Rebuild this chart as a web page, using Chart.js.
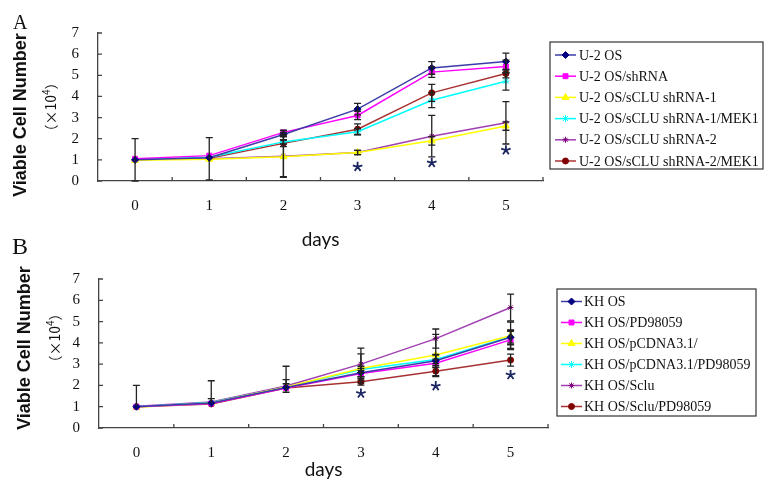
<!DOCTYPE html>
<html>
<head>
<meta charset="utf-8">
<script src="https://cdn.jsdelivr.net/npm/chart.js@4.4.0/dist/chart.umd.min.js"></script>
<style>
  body { margin: 0; background: #fff; }
  #wrap { position: relative; width: 769px; height: 481px; overflow: hidden; }
  canvas { position: absolute; left: 0; top: 0; }
  .rot { position: absolute; transform: translate(-50%, -50%) rotate(-90deg); white-space: nowrap; line-height: 1; }
  .t1 { font: bold 18px "Liberation Sans", Arial, sans-serif; color: #111; }
  .t2 { font: 14px "Noto Sans CJK SC", sans-serif; color: #111; }
  .t2 sup { font-size: 10px; }
  .pl { position: absolute; font-family: "Liberation Serif", serif; line-height: 1; color: #111; }
</style>
</head>
<body>
<div id="wrap">
  <canvas id="chartA" width="769" height="481"></canvas>
  <canvas id="chartB" width="769" height="481"></canvas>
  <div class="pl" style="left:13px;top:12px;font-size:20px">A</div>
  <div class="pl" style="left:12px;top:234px;font-size:24px">B</div>
  <div class="rot t1" style="left:20px;top:115px">Viable Cell Number</div>
  <div class="rot t2" style="left:49px;top:107px">（×10<sup>4</sup>）</div>
  <div class="rot t1" style="left:24px;top:348px">Viable Cell Number</div>
  <div class="rot t2" style="left:53px;top:338px">（×10<sup>4</sup>）</div>
</div>
<script>
// x categories and y tick labels
const days = ['0', '1', '2', '3', '4', '5'];
const yTicks = [0, 1, 2, 3, 4, 5, 6, 7];

// Panel A - U-2 OS
const labelsA = ['U-2 OS', 'U-2 OS/shRNA', 'U-2 OS/sCLU shRNA-1', 'U-2 OS/sCLU shRNA-1/MEK1', 'U-2 OS/sCLU shRNA-2', 'U-2 OS/sCLU shRNA-2/MEK1'];
const u2os      = [1.0, 1.1, 2.2, 3.4, 5.35, 5.65];
const u2shRNA   = [1.05, 1.2, 2.3, 3.1, 5.15, 5.42];
const u2sh1     = [0.98, 1.03, 1.15, 1.35, 1.9, 2.6];
const u2sh1MEK  = [1.0, 1.12, 1.85, 2.33, 3.82, 4.72];
const u2sh2     = [1.02, 1.05, 1.17, 1.35, 2.12, 2.75];
const u2sh2MEK  = [1.0, 1.08, 1.78, 2.45, 4.17, 5.08];
// error bars (number = +/-, pair = [down, up])
const errU2os     = [1.0, 0, 0.1, 0.27, 0.3, 0.4];
const errU2shRNA  = [0, 0, 0.1, 0.2, 0.25, 0.3];
const errU2sh1    = [0, 0, 0.95, 0.1, 0.2, 0.2];
const errU2sh1MEK = [0, 0, 0.1, 0.15, 0.35, 0.42];
const errU2sh2    = [0, 1.0, 1.0, 0.1, 0.98, 1.0];
const errU2sh2MEK = [0, 0, 0.15, 0.25, 0.4, 0.2];
const starsA = [null, null, null, 0.67, 0.86, 1.46];

// Panel B - KH OS
const labelsB = ['KH OS', 'KH OS/PD98059', 'KH OS/pCDNA3.1/', 'KH OS/pCDNA3.1/PD98059', 'KH OS/Sclu', 'KH OS/Sclu/PD98059'];
const khos       = [1.0, 1.17, 1.9, 2.6, 3.16, 4.26];
const khPD       = [1.0, 1.15, 1.88, 2.56, 3.04, 4.14];
const khPc       = [0.97, 1.18, 1.93, 2.8, 3.43, 4.33];
const khPcPD     = [1.0, 1.2, 1.92, 2.75, 3.22, 4.29];
const khSclu     = [1.02, 1.22, 1.97, 3.0, 4.2, 5.66];
const khScluPD   = [1.0, 1.13, 1.88, 2.17, 2.67, 3.19];
const errKhos     = [[0, 1.0], 0, 0, 0.2, 0.3, 0.35];
const errKhPD     = [0, 0, 0, 0.15, 0.2, 0.4];
const errKhPc     = [0, [0, 0.2], 0, 0.68, 0.97, 0.65];
const errKhPcPD   = [0, 0, [0, 0.35], 0.15, 0.2, 0.3];
const errKhSclu   = [0, [0, 1.0], [0, 0.93], 0.75, 0.45, 0.63];
const errKhScluPD = [0, 0, 0.2, 0.16, 0.26, 0.28];
const starsB = [null, null, null, 1.62, 1.97, 2.49];

const styles = [
  { line: '#3c3ca8', point: '#000080', shape: 'rectRot', r: 3.5 },
  { line: '#ff00ff', point: '#ff00ff', shape: 'rect', r: 3.5 },
  { line: '#ffff00', point: '#ffff00', shape: 'triangle', r: 4 },
  { line: '#00ffff', point: '#00ffff', shape: 'star', r: 3.5 },
  { line: '#a040b0', point: '#800080', shape: 'star', r: 3 },
  { line: '#a83232', point: '#800000', shape: 'circle', r: 3 }
];

const errorBarPlugin = {
  id: 'errorBars',
  afterDatasetsDraw(chart) {
    const ctx = chart.ctx, xs = chart.scales.x, ys = chart.scales.y;
    ctx.save();
    ctx.strokeStyle = '#222';
    ctx.lineWidth = 1.3;
    chart.data.datasets.forEach(ds => {
      (ds.errors || []).forEach((e, i) => {
        if (!e) return;
        const [dn, up] = Array.isArray(e) ? e : [e, e];
        const v = ds.data[i];
        const px = xs.getPixelForValue(i);
        const y0 = ys.getPixelForValue(v - dn), y1 = ys.getPixelForValue(v + up);
        ctx.beginPath();
        ctx.moveTo(px, y0); ctx.lineTo(px, y1);
        if (up) { ctx.moveTo(px - 3.5, y1); ctx.lineTo(px + 3.5, y1); }
        if (dn) { ctx.moveTo(px - 3.5, y0); ctx.lineTo(px + 3.5, y0); }
        ctx.stroke();
      });
    });
    ctx.restore();
  }
};

// significance asterisks below the curves
const starPlugin = {
  id: 'stars',
  afterDatasetsDraw(chart, args, opts) {
    const ctx = chart.ctx, xs = chart.scales.x, ys = chart.scales.y;
    ctx.save();
    ctx.strokeStyle = '#1c2660';
    ctx.lineWidth = 1.8;
    (opts.values || []).forEach((v, i) => {
      if (v == null) return;
      const cx = xs.getPixelForValue(i), cy = ys.getPixelForValue(v);
      ctx.beginPath();
      for (let k = 0; k < 5; k++) {
        const a = -Math.PI / 2 + k * 2 * Math.PI / 5;
        ctx.moveTo(cx, cy);
        ctx.lineTo(cx + 5 * Math.cos(a), cy + 5 * Math.sin(a));
      }
      ctx.stroke();
    });
    ctx.restore();
  }
};

// small tick marks pointing into the plot
const innerTicks = {
  id: 'innerTicks',
  afterDraw(chart) {
    const ctx = chart.ctx, xs = chart.scales.x, ys = chart.scales.y, a = chart.chartArea;
    ctx.save();
    ctx.strokeStyle = '#444';
    ctx.lineWidth = 1.3;
    ctx.beginPath();
    for (let i = 0; i < days.length - 1; i++) {
      const bx = (xs.getPixelForValue(i) + xs.getPixelForValue(i + 1)) / 2;
      ctx.moveTo(bx, a.bottom); ctx.lineTo(bx, a.bottom - 4);
    }
    ctx.moveTo(a.right, a.bottom); ctx.lineTo(a.right, a.bottom - 4);
    yTicks.forEach(v => {
      const py = ys.getPixelForValue(v);
      ctx.moveTo(a.left, py); ctx.lineTo(a.left + 4, py);
    });
    ctx.stroke();
    ctx.restore();
  }
};

const boxLegend = {
  id: 'boxLegend',
  afterDraw(chart, args, o) {
    const ctx = chart.ctx;
    ctx.save();
    ctx.strokeStyle = '#333';
    ctx.lineWidth = 1.2;
    ctx.strokeRect(o.left, o.top, o.width, o.height);
    ctx.font = '14px "Liberation Serif"';
    ctx.textBaseline = 'middle';
    chart.data.datasets.forEach((ds, i) => {
      const yy = o.rowY + i * o.rowH;
      ctx.strokeStyle = ds.borderColor;
      ctx.lineWidth = 1.5;
      ctx.beginPath();
      ctx.moveTo(o.lineX0, yy); ctx.lineTo(o.lineX1, yy);
      ctx.stroke();
      ctx.fillStyle = ds.pointBackgroundColor;
      ctx.strokeStyle = ds.pointBorderColor;
      ctx.lineWidth = 1;
      Chart.helpers.drawPoint(ctx, { pointStyle: ds.pointStyle, radius: ds.pointRadius, borderWidth: 1 }, (o.lineX0 + o.lineX1) / 2, yy);
      ctx.fillStyle = '#111';
      ctx.fillText(ds.label, o.textX, yy + 1);
    });
    ctx.restore();
  }
};

function buildChart(id, labels, values, errors, stars, geo) {
  const datasets = values.map((v, i) => ({
    label: labels[i],
    data: v,
    errors: errors[i],
    borderColor: styles[i].line,
    backgroundColor: styles[i].point,
    pointBackgroundColor: styles[i].point,
    pointBorderColor: styles[i].point,
    pointStyle: styles[i].shape,
    pointRadius: styles[i].r,
    pointBorderWidth: 1,
    borderWidth: 1.5,
    tension: 0
  }));
  return new Chart(document.getElementById(id), {
    type: 'line',
    data: { labels: days, datasets },
    options: {
      responsive: false,
      animation: false,
      events: [],
      layout: { padding: { left: 0, top: geo.top, right: 769 - geo.right, bottom: geo.padBottom } },
      plugins: {
        legend: { display: false },
        tooltip: { enabled: false },
        boxLegend: geo.legend,
        stars: { values: stars }
      },
      scales: {
        x: {
          type: 'category',
          offset: true,
          grid: { display: false },
          border: { display: true, color: '#444', width: 1.3 },
          ticks: { font: { family: 'Liberation Serif', size: 15 }, color: '#111', padding: geo.xPad, maxRotation: 0 },
          title: { display: true, text: 'days', font: { family: 'Lato', size: 19 }, color: '#111', padding: 0 },
          afterFit: s => { s.height = geo.xHeight; }
        },
        y: {
          min: 0,
          max: 7,
          afterBuildTicks: s => { s.ticks = yTicks.map(v => ({ value: v })); },
          grid: { display: false },
          border: { display: true, color: '#444', width: 1.3 },
          ticks: { font: { family: 'Liberation Serif', size: 15 }, color: '#111', padding: 11 },
          afterFit: s => { s.width = geo.left; }
        }
      }
    },
    plugins: [errorBarPlugin, starPlugin, innerTicks, boxLegend]
  });
}

buildChart('chartA', labelsA,
  [u2os, u2shRNA, u2sh1, u2sh1MEK, u2sh2, u2sh2MEK],
  [errU2os, errU2shRNA, errU2sh1, errU2sh1MEK, errU2sh2, errU2sh2MEK],
  starsA,
  { left: 98, right: 543, top: 33, padBottom: 230, xHeight: 70, xPad: 8,
    legend: { left: 550, top: 42, width: 213, height: 127, rowY: 55, rowH: 21.2, lineX0: 555, lineX1: 576, textX: 579 } });

buildChart('chartB', labelsB,
  [khos, khPD, khPc, khPcPD, khSclu, khScluPD],
  [errKhos, errKhPD, errKhPc, errKhPcPD, errKhSclu, errKhScluPD],
  starsB,
  { left: 99, right: 548, top: 279, padBottom: 0, xHeight: 53, xPad: 8,
    legend: { left: 557, top: 289, width: 199, height: 127, rowY: 301.5, rowH: 21, lineX0: 561, lineX1: 582, textX: 584 } });
</script>
</body>
</html>
